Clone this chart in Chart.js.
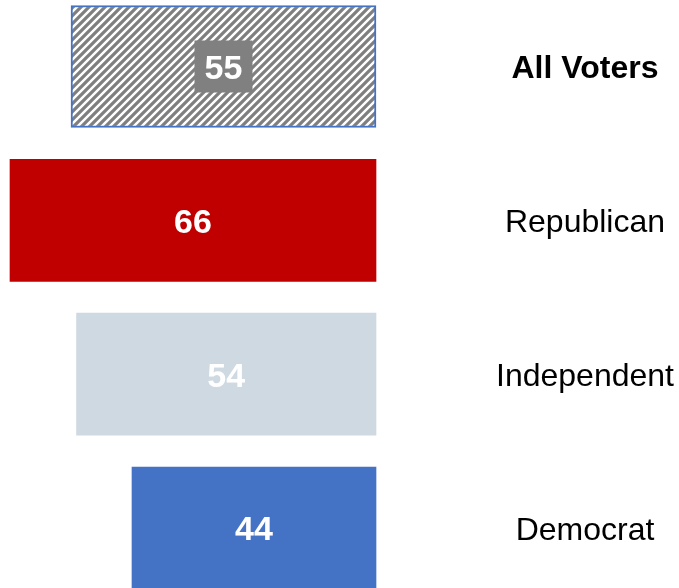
<!DOCTYPE html>
<html>
<head>
<meta charset="utf-8">
<script src="https://cdn.jsdelivr.net/npm/chart.js@4/dist/chart.umd.min.js"></script>
<style>
html,body{margin:0;padding:0;background:#fff;}
#wrap{width:679px;height:588px;}
</style>
</head>
<body>
<div id="wrap"><canvas id="c" width="679" height="588"></canvas></div>
<script>
const categories = ["All Voters", "Republican", "Independent", "Democrat"];
const values = [55, 66, 54, 44];
const barColors = ["hatch", "#C00000", "#CFD9E2", "#4472C4"];

function makeHatch() {
  const s = 8;
  const p = document.createElement('canvas');
  p.width = s; p.height = s;
  const g = p.getContext('2d');
  g.fillStyle = '#ffffff';
  g.fillRect(0, 0, s, s);
  g.strokeStyle = '#7f7f7f';
  g.lineWidth = 3.2;
  g.lineCap = 'square';
  g.beginPath();
  g.moveTo(-2, s + 2); g.lineTo(s + 2, -2);
  g.moveTo(-2, 2); g.lineTo(2, -2);
  g.moveTo(s - 2, s + 2); g.lineTo(s + 2, s - 2);
  g.stroke();
  return g.createPattern(p, 'repeat');
}

const ctx = document.getElementById('c').getContext('2d');
const bg = barColors.map(c => c === 'hatch' ? makeHatch() : c);

const labelPlugin = {
  id: 'labels',
  afterDatasetsDraw(chart) {
    const c = chart.ctx;
    const meta = chart.getDatasetMeta(0);
    c.save();
    c.textBaseline = 'middle';
    c.textAlign = 'center';
    meta.data.forEach((el, i) => {
      const cx = (el.x + el.base) / 2;
      const cy = el.y;
      if (i === 0) {
        c.fillStyle = '#808080';
        c.fillRect(cx - 29, cy - 26, 58, 52);
      }
      c.fillStyle = '#ffffff';
      c.font = 'bold 34px "Liberation Sans", Arial, sans-serif';
      c.fillText(String(values[i]), cx, cy + 3);
      c.fillStyle = '#000000';
      c.font = (i === 0 ? 'bold ' : '') + '32px "Liberation Sans", Arial, sans-serif';
      c.fillText(categories[i], 585, cy + 3);
    });
    c.restore();
  }
};

new Chart(ctx, {
  type: 'bar',
  data: {
    labels: categories,
    datasets: [{
      data: values,
      backgroundColor: bg,
      borderColor: ['#4472C4', 'rgba(0,0,0,0)', 'rgba(0,0,0,0)', 'rgba(0,0,0,0)'],
      borderWidth: [2, 0, 0, 0],
      borderSkipped: false,
      barThickness: 122,
      clip: false
    }]
  },
  options: {
    indexAxis: 'y',
    responsive: false,
    animation: false,
    devicePixelRatio: 1,
    layout: { padding: { left: 10, right: 303, top: 66.5, bottom: 60 } },
    plugins: { legend: { display: false }, tooltip: { enabled: false } },
    scales: {
      x: { display: false, reverse: true, min: 0, max: 66 },
      y: { display: false, offset: false }
    }
  },
  plugins: [labelPlugin]
});
</script>
</body>
</html>
